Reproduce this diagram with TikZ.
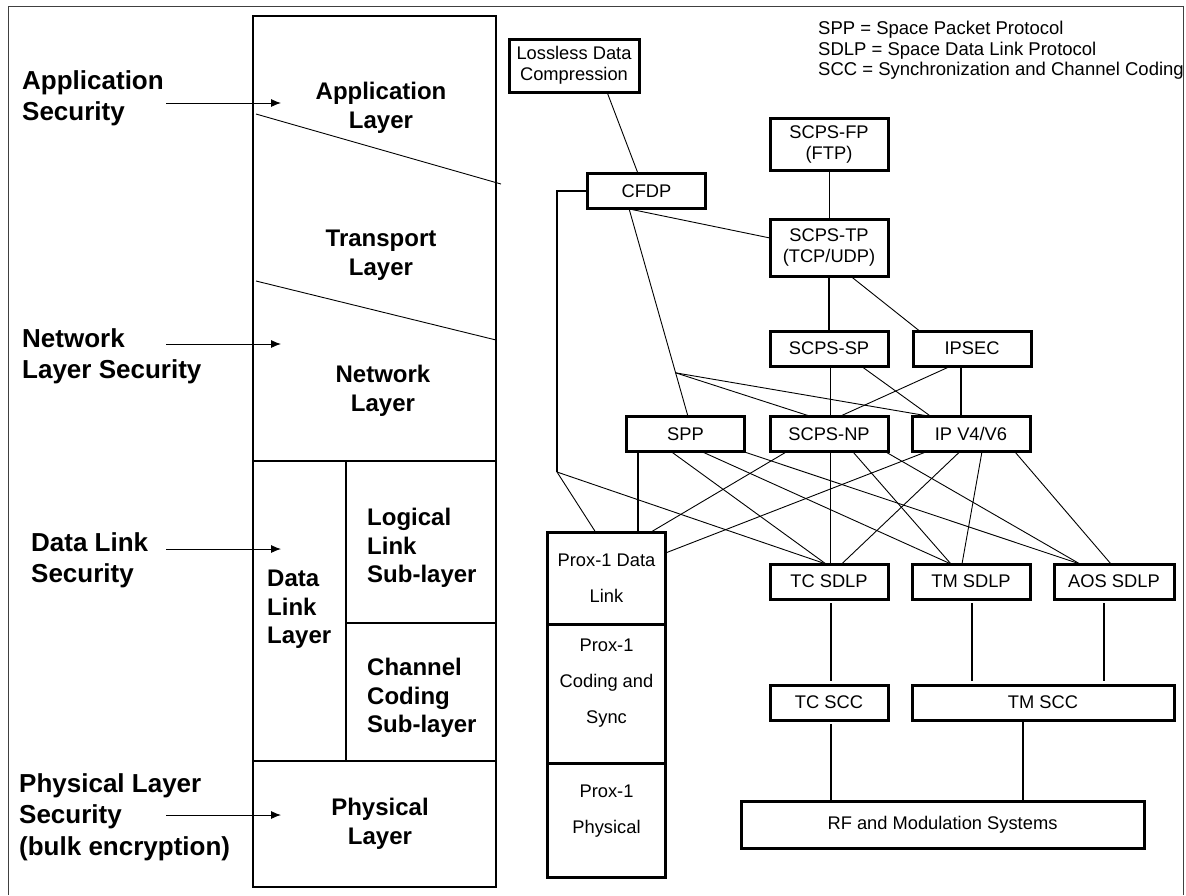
\documentclass[tikz,border=0pt]{standalone}
\usepackage{fontspec}
\setmainfont{Liberation Sans}
\usetikzlibrary{arrows.meta}
\newcommand\seclabfont{\fontsize{26}{31.5}\selectfont\bfseries}
\newcommand\layerfont{\fontsize{24}{28.5}\selectfont\bfseries}
\newcommand\protofont{\fontsize{18.3}{21}\selectfont}
\newcommand\proxfont{\fontsize{18.3}{36}\selectfont}
\tikzset{
  proto/.style={draw, line width=3pt, inner sep=0pt, outer sep=0pt, align=center,
    font=\protofont, minimum width=118pt, minimum height=35pt},
  link/.style={line width=0.9pt},
  trunk/.style={line width=1.8pt},
  secarrow/.style={line width=0.9pt, -{Latex[length=10pt,width=8pt]}},
  seclab/.style={anchor=north west, align=left, inner sep=0pt, font=\seclabfont},
  layerlab/.style={align=center, inner sep=0pt, font=\layerfont},
}
\begin{document}
\begin{tikzpicture}[x=1pt, y=-1pt]
\useasboundingbox (0,0) rectangle (1186,895);
% outer frame
\draw[line width=1pt, black!75] (8,895) -- (8,6) -- (1183,6) -- (1183,895);

% layer stack
\draw[line width=1.2pt] (253,16) rectangle (496,887);
\draw[line width=1.6pt] (253,461) -- (496,461);
\draw[line width=1.6pt] (253,761) -- (496,761);
\draw[line width=1.6pt] (346,461) -- (346,761);
\draw[line width=1.6pt] (346,623) -- (496,623);
\draw[link] (256,114) -- (501,184);
\draw[link] (256,281) -- (496,340);

\node[layerlab, anchor=north] (applayer) at (381,82) {Application\\Layer};
\node[layerlab, anchor=north] (translayer) at (381,230) {Transport\\Layer};
\node[layerlab, anchor=north] (netlayer) at (383,365) {Network\\Layer};
\node[layerlab, anchor=north west, align=left] (dllayer) at (267,570) {Data\\Link\\Layer};
\node[layerlab, anchor=north west, align=left] (llsub) at (367,508) {Logical\\Link\\Sub-layer};
\node[layerlab, anchor=north west, align=left] (ccsub) at (367,658) {Channel\\Coding\\Sub-layer};
\node[layerlab, anchor=north] (phylayer) at (380,798) {Physical\\Layer};

% security labels
\node[seclab] (appsec) at (22,70) {Application\\Security};
\node[seclab] (netsec) at (22,328) {Network\\Layer Security};
\node[seclab] (dlsec) at (31,532) {Data Link\\Security};
\node[seclab] (physec) at (19,773) {Physical Layer\\Security\\(bulk encryption)};

\coordinate (appsec-a) at (166,103);  \coordinate (appsec-b) at (281,103);
\coordinate (netsec-a) at (166,344);  \coordinate (netsec-b) at (281,344);
\coordinate (dlsec-a) at (166,549);   \coordinate (dlsec-b) at (281,549);
\coordinate (physec-a) at (166,815);  \coordinate (physec-b) at (281,815);
\draw[secarrow] (appsec-a) -- (appsec-b);
\draw[secarrow] (netsec-a) -- (netsec-b);
\draw[secarrow] (dlsec-a) -- (dlsec-b);
\draw[secarrow] (physec-a) -- (physec-b);

% legend
\node[anchor=north west, align=left, inner sep=0pt, font=\fontsize{18.5}{20.5}\selectfont] (legend) at (818,21)
  {SPP = Space Packet Protocol\\SDLP = Space Data Link Protocol\\SCC = Synchronization and Channel Coding};

% protocol boxes
\node[proto, minimum width=130pt, minimum height=53pt] (ldc) at (574,65.5) {Lossless Data\\Compression};
\node[proto] (cfdp) at (646.5,191) {CFDP};
\node[proto, minimum height=52pt] (fp) at (829,144) {SCPS-FP\\(FTP)};
\node[proto, minimum height=57pt] (tp) at (829,247.5) {SCPS-TP\\(TCP/UDP)};
\node[proto] (sp) at (829,348.5) {SCPS-SP};
\node[proto] (ipsec) at (972,348.5) {IPSEC};
\node[proto] (spp) at (685.5,434) {SPP};
\node[proto] (np) at (829,434) {SCPS-NP};
\node[proto] (ip) at (971,434) {IP V4/V6};
\node[proto] (tcsdlp) at (829,581.5) {TC SDLP};
\node[proto] (tmsdlp) at (971,581.5) {TM SDLP};
\node[proto, minimum width=120pt] (aossdlp) at (1114,581.5) {AOS SDLP};
\node[proto, font=\proxfont, minimum height=92pt] (proxdl) at (606.5,578) {Prox-1 Data\\Link};
\node[proto, font=\proxfont, minimum height=139pt] (proxcs) at (606.5,693.5) {Prox-1\\Coding and\\Sync\\[-12pt]};
\node[proto, font=\proxfont, minimum height=114pt] (proxph) at (606.5,820) {Prox-1\\Physical\\[-14pt]};
\node[proto] (tcscc) at (829,702.5) {TC SCC};
\node[proto, minimum width=262pt] (tmscc) at (1043,702.5) {TM SCC};
\node[proto, minimum width=403pt, minimum height=47pt] (rf) at (942.5,824.5) {RF and Modulation Systems};

% upper connectors
\draw[link] ([xshift=33]ldc.south) -- ([xshift=-8.5]cfdp.north);
\draw[link] (fp.south) -- (tp.north);
\draw[link] ([xshift=-19.5]cfdp.south) -- ([yshift=9.5]tp.west);
\draw[link] ([xshift=-17.5]cfdp.south) -- ([xshift=2.5]spp.north) coordinate[pos=0.79] (fan);
\draw[link] (fan) -- ([xshift=-18]np.north);
\draw[link] (fan) -- ([xshift=-40]ip.north);
\draw[trunk] (tp.south) -- (sp.north);
\draw[link] ([xshift=21.4]tp.south) -- ([xshift=-52.4]ipsec.north);
\draw[trunk] ([xshift=1.5]sp.south) -- ([xshift=1.5]np.north);
\draw[link] ([xshift=32]sp.south) -- ([xshift=-40]ip.north);
\draw[link] ([xshift=-21]ipsec.south) -- ([xshift=10.5]np.north);
\draw[trunk] ([xshift=-11]ipsec.south) -- ([xshift=-10]ip.north);

% CFDP to the link layer
\coordinate (elbow) at (557,472);
\draw[trunk] (cfdp.west) -| (elbow);
\draw[link] (elbow) -- ([xshift=-11]proxdl.north);
\draw[link] (elbow) -- ([xshift=-3]tcsdlp.north);

% network to data link
\draw[trunk] ([xshift=-47.5]spp.south) -- ([xshift=31.5]proxdl.north);
\draw[link] ([xshift=-14.5]spp.south) -- ([xshift=-3]tcsdlp.north);
\draw[link] ([xshift=16]spp.south) -- ([xshift=-20]tmsdlp.north);
\draw[link] ([xshift=57.5]spp.south) -- ([xshift=-34]aossdlp.north);
\draw[link] ([xshift=-42]np.south) -- ([xshift=44.5]proxdl.north);
\draw[trunk] ([xshift=1.5]np.south) -- ([xshift=1.5]tcsdlp.north);
\draw[link] ([xshift=23.6]np.south) -- ([xshift=-20]tmsdlp.north);
\draw[link] ([xshift=56]np.south) -- ([xshift=-34]aossdlp.north);
\draw[link] ([xshift=-44]ip.south) -- ([yshift=25]proxdl.east);
\draw[link] ([xshift=-11]ip.south) -- ([xshift=12.6]tcsdlp.north);
\draw[link] ([xshift=11]ip.south) -- ([xshift=-9]tmsdlp.north);
\draw[link] ([xshift=43.6]ip.south) -- ([xshift=-3]aossdlp.north);

% data link to coding and RF
\draw[trunk, shorten <=4pt, shorten >=4pt] ([xshift=2]tcsdlp.south) -- ([xshift=2]tcsdlp.south |- tcscc.north);
\draw[trunk, shorten <=4pt, shorten >=4pt] ([xshift=1]tmsdlp.south) -- ([xshift=1]tmsdlp.south |- tmscc.north);
\draw[trunk, shorten <=4pt, shorten >=4pt] ([xshift=-10.4]aossdlp.south) -- ([xshift=-10.4]aossdlp.south |- tmscc.north);
\draw[trunk, shorten <=4pt] ([xshift=2]tcscc.south) -- ([xshift=2]tcscc.south |- rf.north);
\draw[trunk] ([xshift=-20.4]tmscc.south) -- ([xshift=-20.4]tmscc.south |- rf.north);
\end{tikzpicture}
\end{document}
